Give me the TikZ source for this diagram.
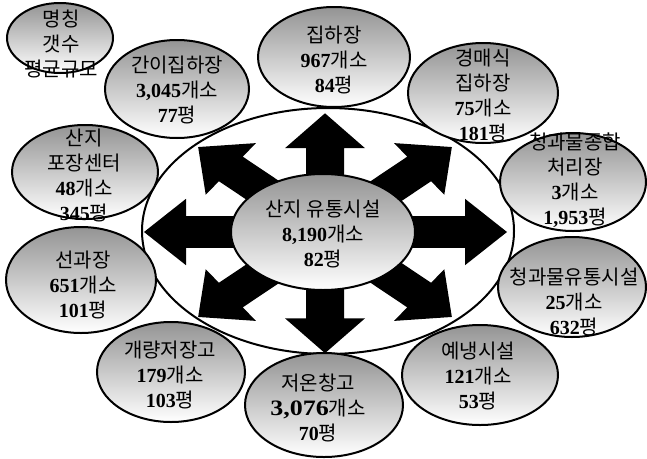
\documentclass[tikz,border=0pt]{standalone}
\usepackage{fontspec}
\setmainfont{Noto Sans CJK KR}
\newfontfamily\numfont{Liberation Serif}
\newcommand{\nm}[1]{{\numfont\bfseries #1}}
\usetikzlibrary{shapes.geometric}

\tikzset{
    bubble/.style={ellipse, draw=black, line width=2pt, inner sep=0pt,
        top color=black!42, middle color=black!14, bottom color=white},
    bubbletext/.style={align=center, inner sep=0pt, font=\fontsize{20}{25}\selectfont}
}

\begin{document}
\begin{tikzpicture}[x=1pt, y=-1pt]
    \useasboundingbox (0,0) rectangle (647,458);
    % Outer ellipse
    \node[ellipse, draw, line width=2pt, fill=white, inner sep=0pt,
        minimum width=372pt, minimum height=246pt] (outer) at (328,231) {};
    % Eight block arrows
    \begin{scope}[shift={(325,232)}, yscale=0.83]
        \foreach \ang/\len in {0/182, 38.9/163, 90/143, 141.1/163, 180/181, 218.9/163, 270/146, 321.1/163}
            \fill[rotate=\ang] (0,-19) -- ({\len-42},-19) -- ({\len-42},-40) -- (\len,0)
                -- ({\len-42},40) -- ({\len-42},19) -- (0,19) -- cycle;
    \end{scope}
    % Centre ellipse
    \node[bubble, minimum width=184pt, minimum height=116pt] (hub) at (323,232) {};
    % Surrounding ellipses
    \node[bubble, minimum width=106pt, minimum height=70pt] (legend) at (60,38) {};
    \node[bubble, minimum width=144pt, minimum height=98pt] (ganyi) at (177,89) {};
    \node[bubble, minimum width=152pt, minimum height=100pt] (jipha) at (334,57) {};
    \node[bubble, minimum width=150pt, minimum height=100pt] (gyeongmae) at (483,93) {};
    \node[bubble, minimum width=146pt, minimum height=98pt] (jonghap) at (573,182) {};
    \node[bubble, minimum width=148pt, minimum height=100pt] (yutong) at (572,287) {};
    \node[bubble, minimum width=156pt, minimum height=100pt] (yenaeng) at (480,375) {};
    \node[bubble, minimum width=158pt, minimum height=104pt] (jeoon) at (324,405) {};
    \node[bubble, minimum width=148pt, minimum height=100pt] (gaeryang) at (171,372) {};
    \node[bubble, minimum width=150pt, minimum height=106pt] (seongwa) at (81,280) {};
    \node[bubble, minimum width=146pt, minimum height=94pt] (pojang) at (85,172) {};
    % Texts
    \node[bubbletext] (hub-t) at (323,234) {산지 유통시설\\\nm{8,190}개소\\\nm{82}평};
    \node[bubbletext] (legend-t) at (61,44) {명칭\\갯수\\평균규모};
    \node[bubbletext] (ganyi-t) at (177,90) {간이집하장\\\nm{3,045}개소\\\nm{77}평};
    \node[bubbletext] (jipha-t) at (334,60) {집하장\\\nm{967}개소\\\nm{84}평};
    \node[bubbletext] (gyeongmae-t) at (483,95) {경매식\\집하장\\\nm{75}개소\\\nm{181}평};
    \node[bubbletext] (jonghap-t) at (575,180) {청과물종합\\처리장\\\nm{3}개소\\\nm{1,953}평};
    \node[bubbletext] (yutong-t) at (574,302) {청과물유통시설\\\nm{25}개소\\\nm{632}평};
    \node[bubbletext] (yenaeng-t) at (478,376) {예냉시설\\\nm{121}개소\\\nm{53}평};
    \node[bubbletext] (jeoon-t) at (318,408) {저온창고\\\scalebox{1.3}[1.1]{\nm{3,076}}개소\\\nm{70}평};
    \node[bubbletext] (gaeryang-t) at (170,375) {개량저장고\\\nm{179}개소\\\nm{103}평};
    \node[bubbletext] (seongwa-t) at (83,285) {선과장\\\nm{651}개소\\\nm{101}평};
    \node[bubbletext] (pojang-t) at (84,175) {산지\\포장센터\\\nm{48}개소\\\nm{345}평};
\end{tikzpicture}
\end{document}
